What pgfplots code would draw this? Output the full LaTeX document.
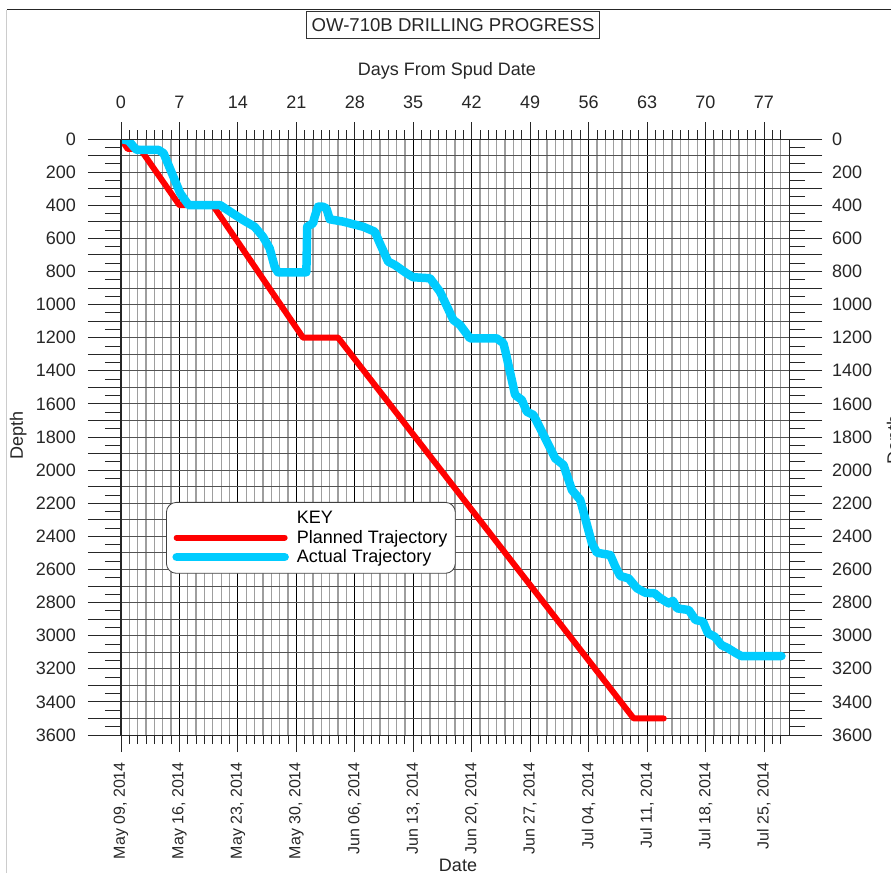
\documentclass[border=0pt]{standalone}
\usepackage{fontspec}
\setmainfont{Liberation Sans}
\usepackage{pgfplots}
\pgfplotsset{compat=1.18}
\definecolor{actual}{RGB}{0,204,255}
\definecolor{planned}{RGB}{255,0,0}
\newcommand{\bigf}{\fontsize{18}{21}\selectfont}
\newcommand{\titlef}{\fontsize{18.6}{21}\selectfont}
\newcommand{\datef}{\fontsize{16}{19}\selectfont}
\newcommand{\minorlist}{1,2,3,4,5,6,8,9,10,11,12,13,15,16,17,18,19,20,22,23,24,25,26,27,29,30,31,32,33,34,36,37,38,39,40,41,43,44,45,46,47,48,50,51,52,53,54,55,57,58,59,60,61,62,64,65,66,67,68,69,71,72,73,74,75,76,78,79}
\pgfplotsset{
 base/.style={
   at={(0pt,0pt)}, anchor=south west,
   scale only axis, width=668pt, height=596pt,
   xmin=0,xmax=80,ymin=0,ymax=3600,y dir=reverse,
   axis line style={black!85,line width=1pt},
   /pgf/number format/assume math mode=true,
   tick label style={font=\bigf, text=black!85, inner sep=0pt},
   every tick/.style={black!85, line width=0.9pt},
   label style={font=\bigf, text=black!85},
 },
}
\begin{document}
\begin{tikzpicture}
% grid, data, legend
\begin{axis}[base,
  xtick={0,7,...,77}, minor xtick/.expanded={\minorlist},
  ytick={0,100,...,3600},
  xticklabels={}, yticklabels={},
  major tick length=0pt, minor tick length=0pt,
  xmajorgrids, xminorgrids, ymajorgrids,
  major x grid style={black, line width=0.9pt},
  minor x grid style={black!38, line width=1.3pt},
  major y grid style={black!68, line width=1pt},
  legend style={at={(axis description cs:0.0674,0.391)}, anchor=north west,
    draw=black!75, line width=0.8pt, rounded corners=10pt, fill=white,
    font=\bigf, cells={anchor=west}, inner xsep=6pt, inner ysep=7pt,
    row sep=1pt, column sep=6pt},
  legend image code/.code={\draw[#1,line cap=round] (0pt,0pt) -- (108pt,0pt);},
]
\addlegendimage{empty legend}
\addlegendentry{KEY}
\addplot[planned, line width=6pt, line join=round, line cap=round] coordinates {
(0,0) (0.8,60) (2.3,60) (7,400) (11,400) (21.8,1200) (26,1200) (61.4,3500) (65,3500)
};
\addlegendentry{Planned Trajectory}
\addplot[actual, line width=8.5pt, line join=round, line cap=round] coordinates {
(0,0) (0.9,10) (1.5,46) (1.9,66) (4.5,66) (5.1,86) (6.1,207) (7.1,328) (8.1,400)
(11.9,400) (13.4,450) (14.6,489) (16.0,530) (17.0,590) (17.8,660) (18.4,771) (18.8,805)
(22.2,805) (22.3,530) (23.0,509) (23.2,469) (23.6,409) (24.2,409) (24.6,419) (25.0,485)
(26.6,499) (29.0,530) (30.4,560) (31.0,630) (32.0,741) (32.8,761) (34.2,811) (35.0,835)
(37.0,841) (38.2,922) (39.8,1093) (40.6,1123) (41.8,1204) (45.0,1204) (45.8,1234)
(46.0,1274) (47.2,1546) (48.0,1576) (48.6,1647) (49.4,1667) (52.0,1929) (53.0,1969)
(54.0,2120) (55.0,2180) (56.4,2442) (57.0,2499) (58.6,2513) (59.2,2583) (59.8,2640)
(60.8,2654) (61.8,2714) (62.8,2741) (63.9,2744) (64.6,2774) (65.6,2805) (66.1,2789)
(66.6,2835) (68.0,2845) (68.8,2905) (69.7,2915) (70.3,2986) (71.1,3006) (71.9,3056)
(72.7,3076) (73.7,3107) (74.3,3123) (79.1,3123)
};
\addlegendentry{Actual Trajectory}
\end{axis}
% bottom ticks and date labels
\begin{axis}[base,
  xtick={0,7,...,77}, minor xtick/.expanded={\minorlist}, ytick=\empty,
  tick align=outside, xtick pos=both, xticklabel pos=lower,
  major tick length=17pt, minor tick length=9pt,
  xticklabels={{May 09, 2014},{May 16, 2014},{May 23, 2014},{May 30, 2014},{Jun 06, 2014},{Jun 13, 2014},{Jun 20, 2014},{Jun 27, 2014},{Jul 04, 2014},{Jul 11, 2014},{Jul 18, 2014},{Jul 25, 2014}},
  xticklabel style={rotate=90, anchor=east, font=\datef, inner xsep=10pt},
  xlabel={Date},
  xlabel style={at={(axis description cs:0.5045,-0.218)}, anchor=center},
]
\end{axis}
% top ticks and day labels
\begin{axis}[base,
  xtick={0,7,...,77}, ytick=\empty,
  tick align=outside, xtick pos=upper, xticklabel pos=upper,
  major tick length=17pt,
  xticklabel style={inner ysep=13pt},
  xlabel={Days From Spud Date},
  xlabel style={at={(axis description cs:0.488,1.114)}, anchor=center},
]
\end{axis}
% left y
\begin{axis}[base,
  xtick=\empty, ytick={0,100,...,3600}, minor ytick={50,150,...,3550},
  tick align=outside, ytick pos=both, yticklabel pos=left,
  major tick length=33pt, minor tick length=16pt,
  yticklabel style={inner xsep=12pt},
  yticklabels={0,,200,,400,,600,,800,,1000,,1200,,1400,,1600,,1800,,2000,,2200,,2400,,2600,,2800,,3000,,3200,,3400,,3600},
  ylabel={Depth},
  ylabel style={at={(axis description cs:-0.154,0.502)}, anchor=center},
]
\end{axis}
% right y
\begin{axis}[base,
  xtick=\empty, ytick={0,100,...,3600},
  tick align=outside, ytick pos=right, yticklabel pos=right,
  major tick length=33pt,
  yticklabel style={inner xsep=10pt},
  yticklabels={0,,200,,400,,600,,800,,1000,,1200,,1400,,1600,,1800,,2000,,2200,,2400,,2600,,2800,,3000,,3200,,3400,,3600},
  ylabel={Depth},
  ylabel style={at={(axis description cs:1.159,0.495)}, anchor=center},
]
\end{axis}
\node[draw=black!80, line width=0.8pt, font=\titlef, text=black!85, inner xsep=5pt, minimum height=27pt] at (332pt,710pt) {OW-710B DRILLING PROGRESS};
\draw[black!85, line width=1pt] (-114pt,725pt) -- (770pt,725pt);
\draw[black!20, line width=1pt] (-114pt,-138pt) -- (-114pt,725pt);
\pgfresetboundingbox
\path[use as bounding box] (-121pt,-138pt) rectangle (770pt,735pt);
\end{tikzpicture}
\end{document}
